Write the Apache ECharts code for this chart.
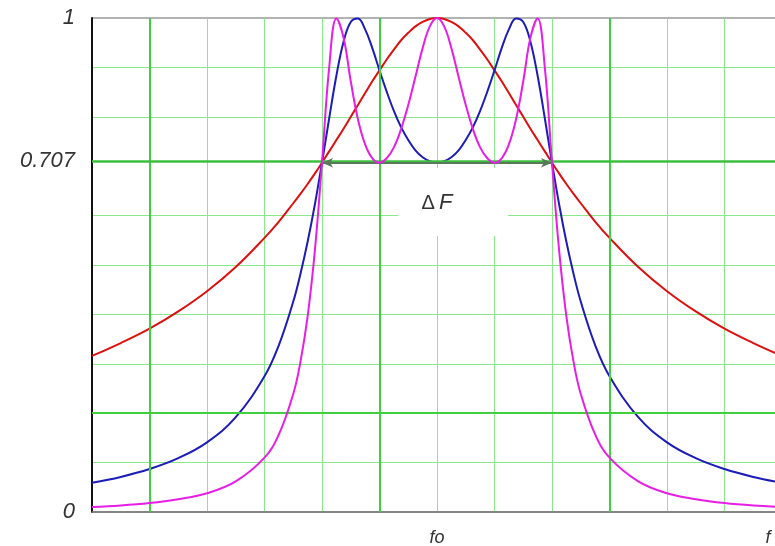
<!DOCTYPE html>
<html>
<head>
<meta charset="utf-8">
<script src="https://cdn.jsdelivr.net/npm/echarts@6/dist/echarts.min.js"></script>
<style>html,body{margin:0;padding:0;background:#fff;}#c{width:775px;height:546px;}</style>
</head>
<body>
<div id="c"></div>
<script>
// frequency positions (grid units, f0 at 6)
const xs = [0,0.5,1,1.5,2,2.5,3,3.25,3.5,3.625,3.75,3.875,4,4.125,4.25,4.375,4.5,4.625,4.75,4.875,5,5.125,5.25,5.375,5.5,5.625,5.75,5.875,6,
            6.125,6.25,6.375,6.5,6.625,6.75,6.875,7,7.125,7.25,7.375,7.5,7.625,7.75,7.875,8,8.125,8.25,8.375,8.5,8.75,9,9.5,10,10.5,11,11.5,12];
const redVals = [0.316,0.342,0.371,0.406,0.447,0.496,0.555,0.588,0.625,0.644,0.664,0.685,0.707,0.730,0.753,0.776,0.800,0.824,0.848,0.872,0.894,0.916,0.936,0.955,0.970,0.983,0.992,0.998,1.000,
                 0.998,0.992,0.983,0.970,0.955,0.936,0.916,0.894,0.872,0.848,0.824,0.800,0.776,0.753,0.730,0.707,0.685,0.664,0.644,0.625,0.588,0.555,0.496,0.447,0.406,0.371,0.342,0.316];
const blueVals = [0.059,0.071,0.087,0.109,0.141,0.192,0.275,0.338,0.426,0.482,0.547,0.622,0.707,0.797,0.883,0.952,0.992,0.999,0.977,0.939,0.894,0.851,0.812,0.779,0.753,0.732,0.718,0.710,0.707,
                  0.710,0.718,0.732,0.753,0.779,0.812,0.851,0.894,0.939,0.977,0.999,0.992,0.952,0.883,0.797,0.707,0.622,0.547,0.482,0.426,0.338,0.275,0.192,0.141,0.109,0.087,0.071,0.059];
const magentaVals = [0.010,0.013,0.018,0.026,0.038,0.062,0.110,0.157,0.239,0.304,0.396,0.528,0.707,0.900,0.999,0.960,0.872,0.795,0.744,0.716,0.707,0.716,0.738,0.775,0.824,0.881,0.939,0.983,1.000,
                     0.983,0.939,0.881,0.824,0.775,0.738,0.716,0.707,0.716,0.744,0.795,0.872,0.960,0.999,0.900,0.707,0.528,0.396,0.304,0.239,0.157,0.110,0.062,0.038,0.026,0.018,0.013,0.010];
const xMajor = [1,5,9];
const yMajor = [0.2];
const halfPower = 0.707;
const bandEdges = [4,8];
const xTickLabels = {6:'fo'};
const yTickLabels = {0:'0',1:'1'};

const pair = (vals) => xs.map((x,i)=>[x, vals[i]]);
const thin = '#8be88b';
const ySplitColors = ['transparent',thin,thin,thin,thin,thin,thin,'transparent',thin,thin,'transparent'];

const chart = echarts.init(document.getElementById('c'), null, {renderer:'canvas'});
const labelFont = {fontFamily:'Liberation Sans, Arial, sans-serif', fontStyle:'italic', color:'#333'};

chart.setOption({
  animation:false,
  backgroundColor:'#fff',
  grid:{left:92, top:18, bottom:34, right:-7, outerBoundsMode:'none', containLabel:false,
    show:true, borderColor:'#666', borderWidth:1, backgroundColor:'#fff'},
  xAxis:{type:'value', min:0, max:12, interval:1,
    axisLine:{show:true, lineStyle:{color:'#777', width:1.5}},
    axisTick:{show:false},
    axisLabel:Object.assign({fontSize:18, margin:17, formatter:v=>xTickLabels[v]||''}, labelFont),
    splitLine:{show:true, lineStyle:{color:thin, width:1}}},
  yAxis:{type:'value', min:0, max:1, interval:0.1,
    axisLine:{show:true, lineStyle:{color:'#111', width:2}},
    axisTick:{show:false},
    axisLabel:Object.assign({fontSize:22, margin:17, formatter:v=>yTickLabels[Math.round(v*10)/10]||''}, labelFont),
    splitLine:{show:true, lineStyle:{color:ySplitColors, width:1}}},
  series:[
    {type:'line', data:[], silent:true, z:1,
      markLine:{silent:true, symbol:'none', animation:false,
        label:{show:false},
        data:[
          ...xMajor.map(v=>({xAxis:v, lineStyle:{color:'#3fcf3f', width:2, type:'solid'}})),
          ...yMajor.map(v=>({yAxis:v, lineStyle:{color:'#3fcf3f', width:2, type:'solid'}})),
          {yAxis:halfPower, lineStyle:{color:'#3cbf3c', width:2.5, type:'solid'},
            label:Object.assign({show:true, position:'start', formatter:'0.707', fontSize:22, distance:17}, labelFont)}
        ]}},
    {type:'line', data:[], silent:true, z:2,
      markLine:{silent:true, symbol:['arrow','arrow'], symbolSize:[7,11], animation:false,
        label:{show:false},
        data:[[{coord:[bandEdges[0],halfPower]},{coord:[bandEdges[1],halfPower]}]],
        lineStyle:{color:'#587a58', width:2, type:'solid'}}},
    {name:'n1', type:'line', data:pair(redVals), smooth:0.4, showSymbol:false, z:3,
      lineStyle:{color:'#dd1010', width:2}},
    {name:'n2', type:'line', data:pair(blueVals), smooth:0.4, showSymbol:false, z:4,
      lineStyle:{color:'#1c1cb8', width:2}},
    {name:'n3', type:'line', data:pair(magentaVals), smooth:0.4, showSymbol:false, z:5,
      lineStyle:{color:'#e61ee6', width:2}}
  ],
  graphic:[
    {type:'rect', shape:{x:398, y:168, width:110, height:68}, style:{fill:'#fff'}, z:10},
    {type:'text', x:437, y:203, z:11,
      style:{text:'{a|Δ}{b|F}', align:'center', verticalAlign:'middle',
        rich:{a:{fontSize:20, fontFamily:'Liberation Sans, Arial, sans-serif', fill:'#333', padding:[0,4,0,0]},
              b:{fontSize:22, fontFamily:'Liberation Sans, Arial, sans-serif', fontStyle:'italic', fill:'#333'}}}},
    {type:'text', x:768, y:538, z:11,
      style:{text:'f', align:'center', verticalAlign:'middle', fontSize:18, fontStyle:'italic', fontFamily:'Liberation Sans, Arial, sans-serif', fill:'#333'}}
  ]
});
</script>
</body>
</html>
